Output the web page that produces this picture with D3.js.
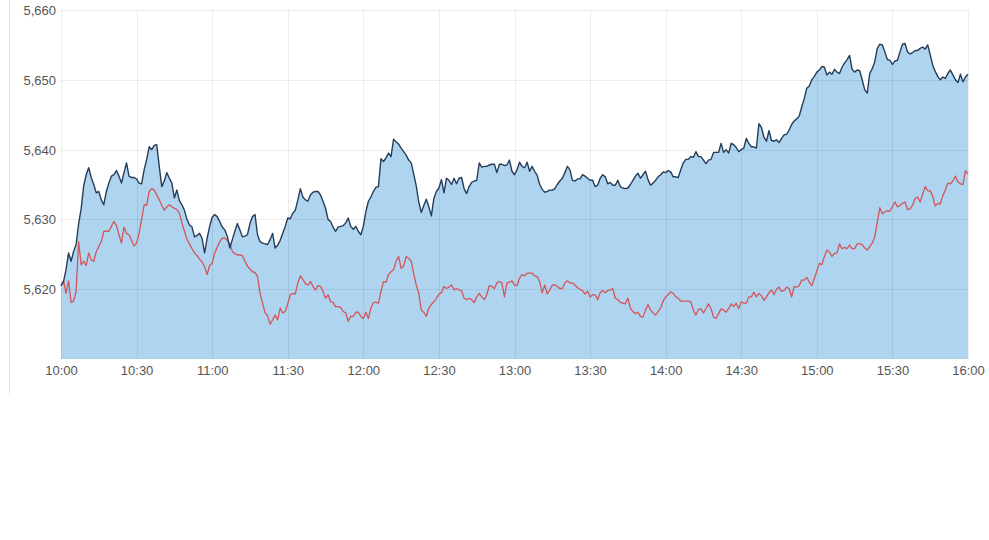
<!DOCTYPE html>
<html>
<head>
<meta charset="utf-8">
<style>
    html, body { margin: 0; padding: 0; background: #fff; }
    svg text { font-family: "Liberation Sans", Arial, sans-serif; font-size: 13px; fill: #555; }
</style>
</head>
<body>
<div id="chart"></div>
<script src="https://d3js.org/d3.v7.min.js"></script>
<script>
    // one reading per minute, from 10:00 to 16:00
    var startTime = [10, 0];
    var stepMinutes = 1;

    // index level (dark line with filled area)
    var indexValues = [
        5620.5, 5621.1, 5622.8, 5625.2, 5624.0, 5625.4, 5626.4, 5629.4, 5631.5, 5634.8,
        5636.4, 5637.4, 5636.0, 5635.0, 5633.8, 5634.0, 5632.8, 5632.1, 5634.0, 5635.2,
        5636.2, 5636.4, 5637.0, 5636.2, 5635.2, 5636.7, 5638.1, 5636.2, 5636.0, 5636.0,
        5635.8, 5635.2, 5635.1, 5637.1, 5638.6, 5640.4, 5640.0, 5640.6, 5640.7, 5637.6,
        5634.7, 5635.5, 5636.7, 5635.9, 5635.2, 5633.1, 5634.2, 5632.7, 5632.1, 5631.3,
        5630.0, 5629.2, 5628.9, 5627.5, 5627.7, 5628.0, 5627.3, 5625.2, 5627.3, 5629.0,
        5630.3, 5630.7, 5630.4, 5629.7, 5628.9, 5628.5, 5627.6, 5625.9, 5627.1, 5628.3,
        5629.4, 5628.5, 5627.5, 5627.6, 5627.8, 5629.4, 5630.4, 5630.7, 5627.8, 5626.8,
        5626.6, 5626.5, 5626.4, 5627.1, 5628.0, 5625.9, 5626.3, 5627.0, 5628.0, 5629.0,
        5630.2, 5630.1, 5630.9, 5631.3, 5632.8, 5634.4, 5633.2, 5632.8, 5632.6, 5633.5,
        5633.9, 5634.0, 5634.0, 5633.5, 5632.6, 5631.6, 5630.0, 5629.7, 5628.9, 5628.3,
        5628.9, 5629.0, 5629.1, 5629.5, 5630.2, 5629.0, 5628.6, 5629.0, 5628.3, 5627.8,
        5629.0, 5631.1, 5632.6, 5633.2, 5634.0, 5634.6, 5634.7, 5638.7, 5638.3, 5638.8,
        5639.5, 5639.0, 5641.5, 5641.1, 5640.8, 5640.2, 5639.7, 5639.2, 5638.5, 5638.1,
        5636.5, 5634.8, 5632.5, 5631.0, 5632.0, 5632.9, 5631.8, 5630.5, 5633.0, 5634.0,
        5634.5, 5635.7, 5633.8, 5635.9, 5635.6, 5635.0, 5635.9, 5635.1, 5635.9, 5636.0,
        5634.4, 5633.7, 5634.7, 5635.3, 5635.5, 5635.6, 5638.1, 5637.5, 5637.6, 5637.6,
        5637.8, 5637.9, 5637.9, 5636.7, 5637.9, 5637.9, 5637.7, 5637.8, 5638.5, 5636.9,
        5636.4, 5637.1, 5638.2, 5637.6, 5637.4, 5638.2, 5636.9, 5637.6, 5636.9, 5636.3,
        5635.0, 5634.3, 5633.9, 5634.0, 5634.2, 5634.2, 5634.4, 5635.0, 5635.5, 5635.9,
        5636.7, 5637.6, 5637.1, 5635.6, 5635.5, 5635.8, 5635.8, 5636.4, 5636.2, 5635.9,
        5635.6, 5635.6, 5634.7, 5634.9, 5635.9, 5636.4, 5636.1, 5635.1, 5635.3, 5634.9,
        5634.9, 5635.6, 5634.7, 5634.5, 5634.4, 5634.5, 5635.0, 5635.6, 5636.2, 5636.6,
        5635.9, 5636.4, 5636.9, 5635.7, 5634.9, 5635.2, 5635.6, 5636.1, 5636.4, 5636.8,
        5636.7, 5637.0, 5636.8, 5636.1, 5636.1, 5636.0, 5637.1, 5638.1, 5638.6, 5638.6,
        5639.0, 5638.9, 5639.7, 5639.0, 5639.0, 5638.5, 5638.0, 5638.5, 5638.6, 5639.6,
        5639.6, 5639.6, 5640.9, 5639.6, 5640.0, 5639.5, 5640.9, 5640.7, 5640.3, 5639.7,
        5640.0, 5640.2, 5641.6, 5640.9, 5640.4, 5640.4, 5640.2, 5643.7, 5643.2, 5641.8,
        5641.2, 5642.7, 5641.3, 5641.2, 5641.4, 5641.0, 5641.6, 5642.1, 5642.2, 5642.8,
        5643.6, 5644.1, 5644.4, 5644.8, 5646.1, 5647.3, 5648.8, 5649.1, 5650.0, 5650.5,
        5651.1, 5651.4, 5651.9, 5651.8, 5650.7, 5651.1, 5650.8, 5651.5, 5651.1, 5650.9,
        5651.8, 5652.4, 5652.9, 5653.5, 5651.5, 5651.1, 5651.4, 5651.3, 5650.0, 5648.6,
        5648.1, 5650.9, 5651.6, 5652.6, 5654.5, 5655.1, 5655.0, 5654.0, 5652.9, 5652.8,
        5652.2, 5652.7, 5652.8, 5654.0, 5655.1, 5655.2, 5654.0, 5653.7, 5653.9, 5654.2,
        5654.2, 5654.5, 5654.7, 5654.4, 5655.0, 5653.6, 5652.1, 5651.2, 5650.5, 5650.0,
        5650.4, 5650.2, 5650.9, 5651.4, 5650.7, 5650.0, 5649.6, 5650.8, 5649.7, 5650.4,
        5650.8
    ];

    // comparison series (red line)
    var compareValues = [
        5620.5, 5621.2, 5619.4, 5621.2, 5618.1, 5618.3, 5619.7, 5626.8, 5623.5, 5624.0,
        5623.4, 5625.2, 5624.2, 5624.0, 5625.4, 5626.1, 5626.8, 5628.3, 5628.3, 5628.3,
        5629.0, 5629.7, 5629.1, 5627.8, 5626.6, 5628.9, 5628.0, 5627.8, 5627.0, 5626.2,
        5626.6, 5628.0, 5630.0, 5632.1, 5632.0, 5634.0, 5634.4, 5634.2, 5633.5, 5632.8,
        5632.0, 5631.3, 5631.8, 5632.1, 5631.8, 5631.6, 5631.4, 5630.9, 5629.5, 5628.3,
        5627.1, 5626.5, 5625.8, 5625.2, 5624.8, 5624.3, 5623.9, 5623.2, 5622.1, 5623.4,
        5623.7, 5625.2, 5626.0, 5626.8, 5627.3, 5627.3, 5627.0, 5626.5, 5625.4, 5625.1,
        5624.9, 5624.9, 5624.8, 5624.0, 5623.3, 5622.9, 5622.5, 5622.4, 5621.8, 5619.4,
        5618.0, 5616.6, 5616.2, 5615.0, 5615.6, 5616.3, 5615.6, 5617.3, 5616.6, 5616.8,
        5617.9, 5619.2, 5619.4, 5619.3, 5620.9, 5621.9, 5621.4, 5620.8, 5620.6, 5621.1,
        5620.4, 5619.9, 5620.5, 5620.4, 5619.7, 5618.7, 5619.2, 5618.2, 5618.1, 5617.5,
        5617.5, 5617.4, 5616.8, 5616.6, 5615.4, 5616.1, 5616.1, 5616.7, 5616.7, 5616.1,
        5615.8, 5616.7, 5615.8, 5617.3, 5618.1, 5618.1, 5618.0, 5619.7, 5621.1, 5621.0,
        5622.1, 5622.5, 5622.8, 5624.0, 5624.7, 5623.0, 5623.3, 5624.7, 5624.4, 5624.0,
        5622.2, 5620.6, 5619.4, 5617.0, 5616.7, 5616.1, 5617.3, 5617.8, 5618.2, 5618.7,
        5619.3, 5619.5, 5620.4, 5620.1, 5620.3, 5620.6, 5619.9, 5620.1, 5619.9, 5619.8,
        5618.7, 5618.5, 5618.7, 5618.5, 5618.1, 5618.9, 5619.4, 5618.9, 5618.5, 5619.2,
        5620.5, 5620.4, 5620.1, 5620.9, 5621.1, 5620.9, 5618.9, 5620.9, 5621.0, 5621.2,
        5620.6, 5620.5, 5621.6, 5622.1, 5621.9, 5622.3, 5622.3, 5622.3, 5621.9, 5621.8,
        5621.1, 5619.5, 5620.6, 5619.3, 5619.9, 5620.6, 5620.6, 5620.4, 5620.1, 5620.1,
        5620.9, 5621.2, 5620.9, 5620.9, 5620.6, 5620.2, 5620.0, 5619.8, 5619.3, 5619.7,
        5618.9, 5619.2, 5619.2, 5618.5, 5619.5, 5619.8, 5619.5, 5619.8, 5619.9, 5620.1,
        5618.7, 5618.5, 5618.1, 5618.0, 5617.9, 5618.7, 5617.3, 5616.8, 5616.5, 5616.7,
        5616.1, 5616.0, 5617.0, 5617.8, 5617.0, 5616.6, 5616.3, 5616.8, 5617.3, 5618.3,
        5618.9, 5619.2, 5619.6, 5619.4, 5618.9, 5618.7, 5618.3, 5618.3, 5618.3, 5618.3,
        5618.2, 5617.0, 5616.3, 5617.1, 5617.2, 5616.6, 5617.2, 5617.9, 5617.2, 5616.0,
        5615.8, 5616.5, 5617.2, 5617.0, 5616.7, 5617.2, 5617.9, 5617.5, 5618.0, 5617.2,
        5618.2, 5618.0, 5618.0, 5618.9, 5618.9, 5619.6, 5618.9, 5619.4, 5619.1, 5618.4,
        5618.9, 5619.5, 5619.9, 5619.2, 5620.0, 5620.3, 5619.7, 5619.8, 5620.3, 5620.1,
        5618.9, 5620.4, 5620.3, 5620.5, 5621.3, 5621.3, 5621.7, 5621.0, 5620.5, 5621.5,
        5622.6, 5623.7, 5623.5, 5624.7, 5625.6, 5625.3, 5624.7, 5625.1, 5625.2, 5626.5,
        5625.8, 5626.0, 5625.8, 5626.3, 5625.8, 5625.8, 5626.5, 5626.5, 5626.4, 5625.9,
        5625.6, 5626.1, 5626.6, 5627.5, 5629.6, 5631.7, 5630.8, 5631.1, 5631.2, 5631.2,
        5631.8, 5632.5, 5631.8, 5632.0, 5632.3, 5632.5, 5631.4, 5631.5, 5632.0, 5633.0,
        5633.2, 5632.5, 5633.6, 5634.7, 5634.1, 5634.1, 5633.3, 5631.9, 5632.3, 5632.2,
        5633.4, 5634.2, 5635.2, 5635.1, 5635.5, 5636.2, 5635.4, 5635.1, 5635.0, 5637.0,
        5636.5
    ];

    var yTicks = [5620, 5630, 5640, 5650, 5660];
    var yDomain = [5610, 5660];
    var xTickMinutes = 30;

    // set the dimensions and margins of the graph
    var width = 989, height = 540;
    var margin = {top: 10, right: 21, bottom: 181, left: 61};

    const svg = d3.select("#chart").append("svg")
        .attr("width", width)
        .attr("height", height);

    function timeAt(i) {
        return new Date(2024, 0, 2, startTime[0], startTime[1] + i * stepMinutes);
    }

    const data = indexValues.map((v, i) => ({t: timeAt(i), a: v, b: compareValues[i]}));

    const x = d3.scaleTime()
        .domain([data[0].t, data[data.length - 1].t])
        .range([margin.left, width - margin.right]);

    const y = d3.scaleLinear()
        .domain(yDomain)
        .range([height - margin.bottom, margin.top]);

    // thin frame line on the far left
    svg.append("line")
        .attr("x1", 9.5).attr("x2", 9.5)
        .attr("y1", 0).attr("y2", 393)
        .attr("stroke", "#dedede");

    // filled area under the index line
    svg.append("path")
        .datum(data)
        .attr("fill", "#aed4f0")
        .attr("d", d3.area()
            .x(d => x(d.t))
            .y0(y(yDomain[0]))
            .y1(d => y(d.a)));

    // grid, drawn over the fill so it shows faintly through it
    const xTicks = d3.timeMinute.every(xTickMinutes).range(data[0].t, d3.timeMinute.offset(data[data.length - 1].t, 1));

    svg.append("g")
        .selectAll("line")
        .data(yTicks)
        .join("line")
        .attr("x1", margin.left).attr("x2", width - margin.right)
        .attr("y1", d => Math.round(y(d)) + 0.5).attr("y2", d => Math.round(y(d)) + 0.5)
        .attr("stroke", "#000").attr("stroke-opacity", 0.07);

    svg.append("g")
        .selectAll("line")
        .data(xTicks)
        .join("line")
        .attr("x1", d => Math.round(x(d)) + 0.5).attr("x2", d => Math.round(x(d)) + 0.5)
        .attr("y1", margin.top).attr("y2", y(yDomain[0]))
        .attr("stroke", "#000").attr("stroke-opacity", 0.07);

    // lines
    svg.append("path")
        .datum(data)
        .attr("fill", "none")
        .attr("stroke", "#d4555a")
        .attr("stroke-width", 1.3)
        .attr("stroke-linejoin", "round")
        .attr("d", d3.line().x(d => x(d.t)).y(d => y(d.b)));

    svg.append("path")
        .datum(data)
        .attr("fill", "none")
        .attr("stroke", "#263d5a")
        .attr("stroke-width", 1.4)
        .attr("stroke-linejoin", "round")
        .attr("d", d3.line().x(d => x(d.t)).y(d => y(d.a)));

    // y axis labels
    const yAxis = svg.append("g")
        .attr("transform", `translate(${margin.left},0)`)
        .call(d3.axisLeft(y).tickValues(yTicks).tickFormat(d3.format(",")).tickSize(0).tickPadding(5));
    yAxis.select(".domain").remove();
    yAxis.selectAll("text").attr("fill", "#555").attr("dy", "0.35em");

    // x axis labels
    const xAxis = svg.append("g")
        .attr("transform", `translate(0,${y(yDomain[0])})`)
        .call(d3.axisBottom(x).tickValues(xTicks).tickFormat(d3.timeFormat("%H:%M")).tickSize(0).tickPadding(7));
    xAxis.select(".domain").remove();
    xAxis.selectAll("text").attr("fill", "#555");
</script>
</body>
</html>
